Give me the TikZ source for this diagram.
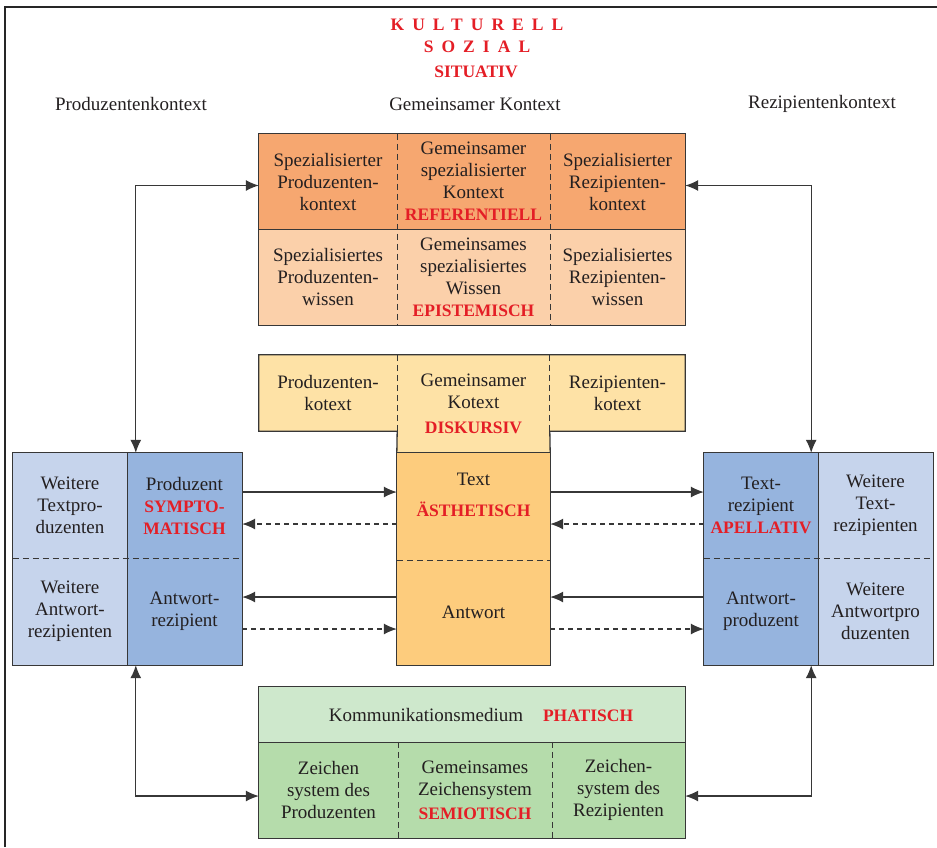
\documentclass[tikz,border=0pt]{standalone}
\usepackage{fontspec}
\setmainfont{Liberation Serif}
\usepackage{tikz}
\usetikzlibrary{arrows.meta}

\definecolor{kred}{RGB}{228,30,38}
\definecolor{ktext}{RGB}{35,31,32}
\definecolor{kline}{RGB}{55,55,55}
\definecolor{orDark}{RGB}{246,167,112}
\definecolor{orLight}{RGB}{251,208,170}
\definecolor{yeLight}{RGB}{254,226,166}
\definecolor{yeDark}{RGB}{253,204,125}
\definecolor{blDark}{RGB}{150,180,222}
\definecolor{blLight}{RGB}{198,212,236}
\definecolor{grLight}{RGB}{206,232,204}
\definecolor{grDark}{RGB}{181,220,171}

\newcommand{\kw}[1]{{\color{kred}\fontsize{17.5}{22}\selectfont\bfseries #1}}

\begin{document}
\begin{tikzpicture}[x=1pt, y=-1pt, font=\fontsize{19}{22}\selectfont,
  cell/.style = {inner sep=0pt, align=center, text=ktext},
  border/.style = {draw=kline, line width=1.3pt},
  divider/.style = {draw=kline, line width=1.1pt, dash pattern=on 6pt off 4pt},
  arr/.style = {draw=kline, line width=1.2pt, -{Latex[length=13pt,width=11pt]}},
  darr/.style = {arr, dash pattern=on 5pt off 4pt},
  both/.style = {draw=kline, line width=1.2pt, {Latex[length=13pt,width=11pt]}-{Latex[length=13pt,width=11pt]}}]

	\useasboundingbox (0,0) rectangle (937,847);
	\draw[line width=2.2pt, black!85] (4.7,847) -- (4.7,7) -- (937,7);
	
	\node[text=kred, font=\fontsize{17.5}{20}\selectfont\bfseries\addfontfeature{LetterSpace=46}] (kult) at (477,25) {KULTURELL};
	\node[text=kred, font=\fontsize{17.5}{20}\selectfont\bfseries\addfontfeature{LetterSpace=46}] (soz) at (477,47) {SOZIAL};
	\node[text=kred, font=\fontsize{17.5}{20}\selectfont\bfseries] (sit) at (476,72) {SITUATIV};
	
	\node[cell] (hprod) at (131,104) {Produzentenkontext};
	\node[cell] (hgem) at (475,104) {Gemeinsamer Kontext};
	\node[cell] (hrez) at (822,104) {Rezipientenkontext};
	
	% referentiell / epistemisch
	\node[cell, fill=orDark, minimum width=138pt, minimum height=95pt] (spk) at (328,181.5) {Spezialisierter\\Produzenten-\\kontext};
	\node[cell, fill=orDark, minimum width=153pt, minimum height=95pt] (gsk) at (473.5,181.5) {Gemeinsamer\\spezialisierter\\Kontext\\\kw{REFERENTIELL}};
	\node[cell, fill=orDark, minimum width=135pt, minimum height=95pt] (srk) at (617.5,181.5) {Spezialisierter\\Rezipienten-\\kontext};
	\node[cell, fill=orLight, minimum width=138pt, minimum height=96pt] (spw) at (328,277) {Spezialisiertes\\Produzenten-\\wissen};
	\node[cell, fill=orLight, minimum width=153pt, minimum height=96pt] (gsw) at (473.5,277) {Gemeinsames\\spezialisiertes\\Wissen\\\kw{EPISTEMISCH}};
	\node[cell, fill=orLight, minimum width=135pt, minimum height=96pt] (srw) at (617.5,277) {Spezialisiertes\\Rezipienten-\\wissen};
	\draw[border] (spk.north west) rectangle (srw.south east);
	\draw[border] (spk.south west) -- (srk.south east);
	\draw[divider] (spk.north east) -- (spw.south east);
	\draw[divider] (gsk.north east) -- (gsw.south east);
	
	% diskursiv
	\node[cell, fill=yeLight, minimum width=138pt, minimum height=76pt] (pkt) at (328,393) {Produzenten-\\kotext};
	\node[cell, fill=yeLight, minimum width=153pt, minimum height=98pt] (gkt) at (473.5,404) {Gemeinsamer\\Kotext\\[3pt]\kw{DISKURSIV}};
	\node[cell, fill=yeLight, minimum width=135pt, minimum height=76pt] (rkt) at (617.5,393) {Rezipienten-\\kotext};
	\draw[border] (pkt.south west) -- (pkt.north west) -- (rkt.north east) -- (rkt.south east)
	  -- (rkt.south west) -- (gkt.south east) -- (gkt.south west) -- (pkt.south east) -- cycle;
	\draw[divider] (pkt.north east) -- (pkt.south east);
	\draw[divider] (rkt.north west) -- (rkt.south west);
	
	% text / antwort
	\node[cell, fill=yeDark, minimum width=153pt, minimum height=107pt,
	  label={[cell, yshift=12pt]center:{Text\\[9pt]\kw{ÄSTHETISCH}}}] (txt) at (473.5,506.5) {};
	\node[cell, fill=yeDark, minimum width=153pt, minimum height=105pt] (ant) at (473.5,612.5) {Antwort};
	\draw[border] (txt.north west) rectangle (ant.south east);
	\draw[divider] (txt.south west) -- (txt.south east);
	
	% produzent
	\node[cell, fill=blLight, minimum width=114pt, minimum height=105pt] (wtp) at (70,505.5) {Weitere\\Textpro-\\duzenten};
	\node[cell, fill=blDark, minimum width=115pt, minimum height=105pt] (prd) at (184.5,505.5) {Produzent\\\kw{SYMPTO-}\\\kw{MATISCH}};
	\node[cell, fill=blLight, minimum width=114pt, minimum height=107pt] (war) at (70,611.5) {Weitere\\Antwort-\\rezipienten};
	\node[cell, fill=blDark, minimum width=115pt, minimum height=107pt] (arz) at (184.5,611.5) {Antwort-\\rezipient};
	\draw[border] (wtp.north west) rectangle (arz.south east);
	\draw[border] (wtp.north east) -- (war.south east);
	\draw[divider] (wtp.south west) -- (prd.south east);
	
	% rezipient
	\node[cell, fill=blDark, minimum width=114pt, minimum height=105pt] (trz) at (761,505.5) {Text-\\rezipient\\\kw{APELLATIV}};
	\node[cell, fill=blLight, minimum width=115pt, minimum height=105pt] (wtr) at (875.5,505.5) {Weitere\\Text-\\rezipienten};
	\node[cell, fill=blDark, minimum width=114pt, minimum height=107pt] (apr) at (761,611.5) {Antwort-\\produzent};
	\node[cell, fill=blLight, minimum width=115pt, minimum height=107pt] (wap) at (875.5,611.5) {Weitere\\Antwortpro\\duzenten};
	\draw[border] (trz.north west) rectangle (wap.south east);
	\draw[border] (trz.north east) -- (apr.south east);
	\draw[divider] (trz.south west) -- (wtr.south east);
	
	% phatisch / semiotisch
	\node[cell, fill=grLight, minimum width=426pt, minimum height=55pt] (kom) at (472,714.5) {\hspace*{18pt}Kommunikationsmedium\hspace{20pt}\kw{PHATISCH}};
	\node[cell, fill=grDark, minimum width=139pt, minimum height=96pt] (zsp) at (328.5,790) {Zeichen\\system des\\Produzenten};
	\node[cell, fill=grDark, minimum width=154pt, minimum height=96pt] (gzs) at (475,790) {Gemeinsames\\Zeichensystem\\[2pt]\kw{SEMIOTISCH}};
	\node[cell, fill=grDark, minimum width=133pt, minimum height=96pt] (zsr) at (618.5,790) {Zeichen-\\system des\\Rezipienten};
	\draw[border] (kom.north west) rectangle (zsr.south east);
	\draw[border] (kom.south west) -- (kom.south east);
	\draw[divider] (zsp.north east) -- (zsp.south east);
	\draw[divider] (gzs.north east) -- (gzs.south east);
	
	\coordinate (pl1) at ([yshift=13.5pt]prd.east);
	\coordinate (pl2) at ([yshift=-18.5pt]prd.east);
	\coordinate (al1) at ([yshift=14.5pt]arz.east);
	\coordinate (al2) at ([yshift=-17.5pt]arz.east);
	\draw[arr] (pl1) -- (pl1 -| txt.west);
	\draw[darr] (pl2 -| txt.west) -- (pl2);
	\draw[arr] (al1 -| ant.west) -- (al1);
	\draw[darr] (al2) -- (al2 -| ant.west);
	
	\coordinate (pr1) at ([yshift=13.5pt]trz.west);
	\coordinate (pr2) at ([yshift=-18.5pt]trz.west);
	\coordinate (ar1) at ([yshift=14.5pt]apr.west);
	\coordinate (ar2) at ([yshift=-17.5pt]apr.west);
	\draw[arr] (pr1 -| txt.east) -- (pr1);
	\draw[darr] (pr2) -- (pr2 -| txt.east);
	\draw[arr] (ar1) -- (ar1 -| ant.east);
	\draw[darr] (ar2 -| ant.east) -- (ar2);
	
	\coordinate (lt) at ([xshift=9pt]prd.north west);
	\coordinate (rt) at ([xshift=-7pt]trz.north east);
	\coordinate (lb) at ([xshift=9pt]arz.south west);
	\coordinate (rb) at ([xshift=-7pt]apr.south east);
	\draw[both] ([yshift=-4pt]spk.west) -| (lt);
	\draw[both] ([yshift=-4pt]srk.east) -| (rt);
	\draw[both] ([yshift=-6pt]zsp.west) -| (lb);
	\draw[both] ([yshift=-6pt]zsr.east) -| (rb);
	
\end{tikzpicture}
\end{document}
